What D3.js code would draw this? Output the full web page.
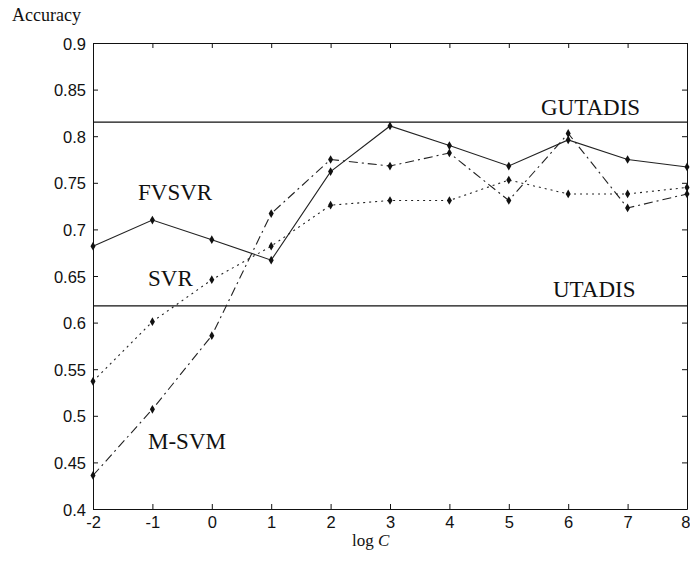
<!DOCTYPE html>
<html>
<head>
<meta charset="utf-8">
<script src="https://cdn.jsdelivr.net/npm/d3@7"></script>
<style>
  body { margin: 0; background: #fff; }
  .axis path, .axis line { stroke: #111; }
  .axis text { font-family: "Liberation Sans", Arial, sans-serif; font-size: 16.5px; fill: #111; }
  .lbl { font-family: "Liberation Serif", "Times New Roman", serif; fill: #111; }
</style>
</head>
<body>
<div id="chart"></div>
<script>
// data
let logC = [-2, -1, 0, 1, 2, 3, 4, 5, 6, 7, 8];
let fvsvr = [0.682, 0.710, 0.689, 0.667, 0.762, 0.811, 0.790, 0.768, 0.796, 0.775, 0.767];
let svr   = [0.537, 0.601, 0.646, 0.682, 0.726, 0.731, 0.731, 0.753, 0.738, 0.738, 0.745];
let msvm  = [0.436, 0.507, 0.586, 0.717, 0.775, 0.768, 0.782, 0.731, 0.803, 0.723, 0.738];
let gutadis = 0.815;
let utadis = 0.618;
let xTicks = [-2, -1, 0, 1, 2, 3, 4, 5, 6, 7, 8];
let yTicks = [0.4, 0.45, 0.5, 0.55, 0.6, 0.65, 0.7, 0.75, 0.8, 0.85, 0.9];
let yLabels = ["0.4", "0.45", "0.5", "0.55", "0.6", "0.65", "0.7", "0.75", "0.8", "0.85", "0.9"];

let margin = {top: 43, right: 3, bottom: 59, left: 93};
let width = 690, height = 568;
let w = width - margin.left - margin.right;
let h = height - margin.top - margin.bottom;

let svg = d3.select("#chart").append("svg")
    .attr("width", width)
    .attr("height", height);

let g = svg.append("g")
    .attr("transform", "translate(" + margin.left + "," + margin.top + ")");

let xScale = d3.scaleLinear().domain([-2, 8]).range([0, w]);
let yScale = d3.scaleLinear().domain([0.4, 0.9]).range([h, 0]);

// axes, matlab style ticks pointing inwards
let xAx = g.append("g").attr("class", "axis")
    .attr("transform", "translate(0," + h + ")")
    .call(d3.axisBottom(xScale).tickValues(xTicks).tickFormat(d => String(d))
        .tickSizeInner(-5).tickSizeOuter(0).tickPadding(7));
g.append("g").attr("class", "axis")
    .call(d3.axisLeft(yScale).tickValues(yTicks).tickFormat((d, i) => yLabels[i])
        .tickSizeInner(-5).tickSizeOuter(0).tickPadding(7));
g.append("g").attr("class", "axis")
    .call(d3.axisTop(xScale).tickValues(xTicks).tickFormat("")
        .tickSizeInner(-5).tickSizeOuter(0));
g.append("g").attr("class", "axis")
    .attr("transform", "translate(" + w + ",0)")
    .call(d3.axisRight(yScale).tickValues(yTicks).tickFormat("")
        .tickSizeInner(-5).tickSizeOuter(0));
g.selectAll(".axis text").attr("dy", null).attr("dominant-baseline", "central");
xAx.selectAll("text").attr("dominant-baseline", "hanging");
// last label sits at the window edge, keep it inside
xAx.selectAll("text").filter(d => d === 8).attr("text-anchor", "end").attr("x", 3);

// reference lines
[gutadis, utadis].forEach(v => {
    g.append("line")
        .attr("x1", 0).attr("x2", w)
        .attr("y1", yScale(v)).attr("y2", yScale(v))
        .style("stroke", "#111").style("stroke-width", 1.3);
});

let series = [
    {vals: fvsvr, dash: null},
    {vals: svr, dash: "2,4"},
    {vals: msvm, dash: "9,4,2,4"}
];

let line = d3.line()
    .x(d => xScale(d[0]))
    .y(d => yScale(d[1]));

series.forEach(s => {
    let pts = logC.map((c, i) => [c, s.vals[i]]);
    g.append("path")
        .attr("d", line(pts))
        .style("fill", "none")
        .style("stroke", "#222")
        .style("stroke-width", 1.1)
        .style("stroke-dasharray", s.dash);
    g.selectAll(null)
        .data(pts)
        .enter().append("path")
        .attr("d", d3.symbol().type(d3.symbolDiamond).size(22))
        .attr("transform", d => "translate(" + xScale(d[0]) + "," + yScale(d[1]) + ")")
        .style("fill", "#111");
});

// labels
let labels = [
    {t: "FVSVR", x: 138, y: 200},
    {t: "SVR", x: 148, y: 286},
    {t: "M-SVM", x: 148, y: 449},
    {t: "GUTADIS", x: 541, y: 115},
    {t: "UTADIS", x: 553, y: 297}
];
svg.selectAll(".series-lbl")
    .data(labels)
    .enter().append("text")
    .attr("class", "lbl")
    .attr("x", d => d.x)
    .attr("y", d => d.y)
    .style("font-size", "23px")
    .text(d => d.t);

svg.append("text").attr("class", "lbl")
    .attr("x", 12).attr("y", 21)
    .style("font-size", "18px")
    .text("Accuracy");

let xl = svg.append("text").attr("class", "lbl")
    .attr("x", 352).attr("y", 546)
    .style("font-size", "17px");
xl.append("tspan").text("log ");
xl.append("tspan").style("font-style", "italic").text("C");
</script>
</body>
</html>
